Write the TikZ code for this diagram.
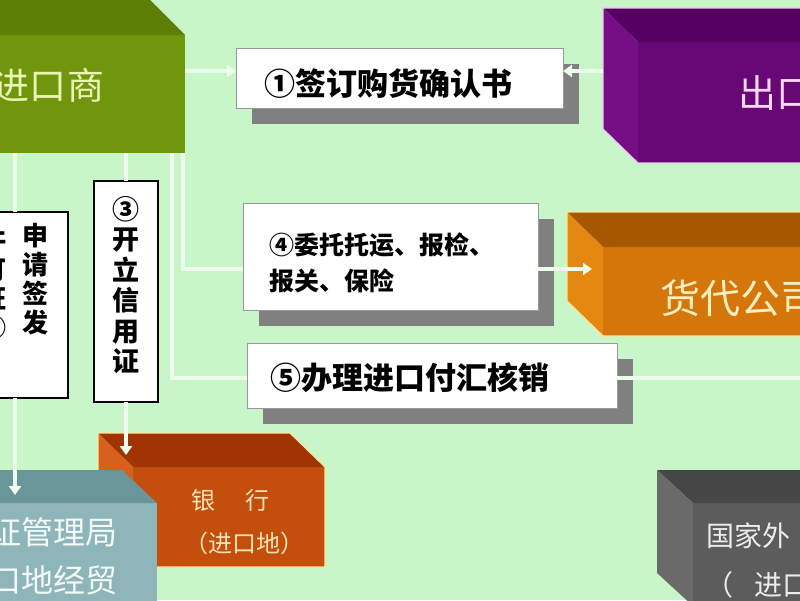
\documentclass[tikz,border=0pt]{standalone}
\usepackage{fontspec}
\newfontfamily\cjk{Noto Sans CJK SC}
\usetikzlibrary{shadows,arrows.meta,calc}
\definecolor{bgc}{RGB}{200,246,200}
\definecolor{lineC}{RGB}{238,252,238}
\definecolor{shgray}{RGB}{128,128,128}
\definecolor{impF}{RGB}{112,150,14}
\definecolor{impT}{RGB}{92,128,6}
\definecolor{impTxt}{RGB}{236,244,180}
\definecolor{expF}{RGB}{104,8,118}
\definecolor{expT}{RGB}{86,0,98}
\definecolor{expL}{RGB}{118,14,134}
\definecolor{expEdge}{RGB}{236,200,236}
\definecolor{expTxt}{RGB}{244,216,244}
\definecolor{fwdF}{RGB}{212,118,10}
\definecolor{fwdT}{RGB}{166,88,0}
\definecolor{fwdL}{RGB}{228,136,18}
\definecolor{fwdEdge}{RGB}{248,232,150}
\definecolor{fwdTxt}{RGB}{250,238,190}
\definecolor{bankF}{RGB}{196,78,12}
\definecolor{bankT}{RGB}{160,52,4}
\definecolor{bankL}{RGB}{214,96,28}
\definecolor{bankTxt}{RGB}{248,228,184}
\definecolor{tealF}{RGB}{142,182,186}
\definecolor{tealT}{RGB}{106,150,154}
\definecolor{tealTxt}{RGB}{244,250,250}
\definecolor{grayF}{RGB}{92,92,92}
\definecolor{grayT}{RGB}{70,70,70}
\definecolor{grayL}{RGB}{106,106,106}
\definecolor{grayTxt}{RGB}{236,236,236}
\newcommand\solidfaces[5]{%
  \fill[#4] (#1.north west) -- ++(#2,#3) -- ($(#1.north east)+(#2,#3)$) -- (#1.north east) -- cycle;
  \fill[#5] (#1.north west) -- ++(#2,#3) -- ($(#1.south west)+(#2,#3)$) -- (#1.south west) -- cycle;}
\newcommand\solidedge[4]{%
  \draw[#4, line width=1.2pt, line join=round] ($(#1.north west)+(#2,#3)$) -- ($(#1.north east)+(#2,#3)$) -- (#1.north east)
    -- (#1.south east) -- (#1.south west) -- ($(#1.south west)+(#2,#3)$) -- cycle;}
\begin{document}
\begin{tikzpicture}[x=1pt,y=-1pt,
  face/.style={inner sep=0pt, outer sep=0pt, anchor=north west, draw=none},
  wbox/.style={face, fill=white, draw=black!40, line width=0.8pt,
    general shadow={fill=shgray, shadow xshift=16pt, shadow yshift=-16pt}},
  vbox/.style={face, fill=white, draw=black, line width=1.5pt},
  conn/.style={draw=lineC, line width=4pt},
  tip/.style={-{Triangle[width=12pt,length=9pt]}},
  lbl/.style={inner sep=0pt, outer sep=0pt},
  blk/.style={lbl, text=black, font=\cjk\bfseries},
]
\useasboundingbox (0,0) rectangle (800,600);
\clip (0,0) rectangle (800,600);
\fill[bgc] (0,0) rectangle (800,600);

% importer
\node[face, fill=impF, minimum width=285pt, minimum height=118pt] (imp) at (-100,35) {};
\solidfaces{imp}{-35}{-35}{impT}{impT}
% exporter
\node[face, fill=expF, minimum width=262pt, minimum height=121pt] (exp) at (638,42) {};
\solidfaces{exp}{-35}{-34}{expT}{expL}
\solidedge{exp}{-35}{-34}{expEdge}
% forwarder
\node[face, fill=fwdF, minimum width=297pt, minimum height=89pt] (fwd) at (603,247) {};
\solidfaces{fwd}{-36}{-35}{fwdT}{fwdL}
\solidedge{fwd}{-36}{-35}{fwdEdge}
% bank
\node[face, fill=bankF, minimum width=192pt, minimum height=100pt] (bank) at (133,467) {};
\solidfaces{bank}{-35}{-34}{bankT}{bankL}
\solidedge{bank}{-35}{-34}{fwdEdge}
% licence bureau (teal)
\node[face, fill=tealF, minimum width=257pt, minimum height=200pt] (lic) at (-100,503) {};
\solidfaces{lic}{-35}{-33}{tealT}{tealT}
% forex bureau (gray)
\node[face, fill=grayF, minimum width=207pt, minimum height=103pt] (fx) at (693,503) {};
\solidfaces{fx}{-36}{-33}{grayT}{grayL}

% white boxes
\node[wbox, minimum width=327pt, minimum height=60pt] (box1) at (236,48) {};
\node[wbox, minimum width=295pt, minimum height=107pt] (box4) at (243,203) {};
\node[wbox, minimum width=370pt, minimum height=65pt] (box5) at (247,343) {};
\node[vbox, minimum width=106pt, minimum height=186pt] (box2) at (-38,212) {};
\node[vbox, minimum width=64pt, minimum height=221pt] (box3) at (94,181) {};

% texts of the solid boxes
\node[lbl, anchor=east, text=impTxt, font=\cjk\fontsize{37}{37}\selectfont] (timp) at (104,85) {进口商};
\node[lbl, anchor=west, text=expTxt, font=\cjk\fontsize{38}{38}\selectfont] (texp) at (738,93) {出口};
\node[lbl, anchor=west, text=fwdTxt, font=\cjk\fontsize{40}{40}\selectfont] (tfwd) at (660,298) {货代公司};
\node[lbl, text=bankTxt, font=\cjk\fontsize{24}{24}\selectfont] (tbank1) at (230,500) {银\hspace{30pt}行};
\node[lbl, text=bankTxt, font=\cjk\fontsize{24}{24}\selectfont] (tbank2) at (244,543) {（进口地）};
\node[lbl, anchor=east, text=tealTxt, font=\cjk\fontsize{32}{32}\selectfont] (tlic1) at (118,532) {证管理局};
\node[lbl, anchor=east, text=tealTxt, font=\cjk\fontsize{32}{32}\selectfont] (tlic2) at (118,580) {口地经贸};
\node[lbl, anchor=west, text=grayTxt, font=\cjk\fontsize{28}{28}\selectfont] (tfx1) at (706,536) {国家外};
\node[lbl, anchor=west, text=grayTxt, font=\cjk\fontsize{28}{28}\selectfont] (tfx2) at (705,585) {（\hspace{22pt}进口};

% texts of the white boxes
\node[blk, font=\cjk\bfseries\fontsize{31}{31}\selectfont] (t1) at (388,84) {①签订购货确认书};
\node[blk, anchor=west, align=left, font=\cjk\bfseries\fontsize{25}{36}\selectfont] (t4) at (269,263) {④委托托运、报检、\\报关、保险};
\node[blk, anchor=west, font=\cjk\bfseries\fontsize{31}{31}\selectfont] (t5) at (270,378) {⑤办理进口付汇核销};
\node[blk, align=center, font=\cjk\bfseries\fontsize{27}{30.5}\selectfont] (t3) at (126,285) {③\\开\\立\\信\\用\\证};
\node[blk, align=center, font=\cjk\bfseries\fontsize{26}{29}\selectfont] (t2a) at (35,279) {申\\请\\签\\发};
\node[blk, align=center, font=\cjk\bfseries\fontsize{26}{29}\selectfont] (t2b) at (-6,284) {许\\可\\证\\②};

% connectors
\coordinate (c1) at (0,71);
\coordinate (expL) at (603,71);
\coordinate (j4) at (183,269);
\coordinate (j5) at (172,378);
\coordinate (fwdL) at (592,269);
\coordinate (e5) at (820,378);
\draw[conn,tip] (imp.east |- c1) -- (box1.west |- c1);
\draw[conn,tip] (expL) -- (box1.east |- c1);
\draw[conn] (box2.north |- imp.south) -- (box2.north);
\draw[conn,tip,shorten >=8pt] (box2.south) -- (box2.south |- lic.north);
\draw[conn] (box3.north |- imp.south) -- (box3.north);
\draw[conn,tip,shorten >=12pt] (box3.south) -- (box3.south |- bank.north);
\draw[conn] (j4 |- imp.south) -- (j4) -- (box4.west |- j4);
\draw[conn] (j5 |- imp.south) -- (j5) -- (box5.west |- j5);
\draw[conn,tip] (box4.east |- j4) -- (fwdL);
\draw[conn] (box5.east |- j5) -- (e5);
\end{tikzpicture}
\end{document}
